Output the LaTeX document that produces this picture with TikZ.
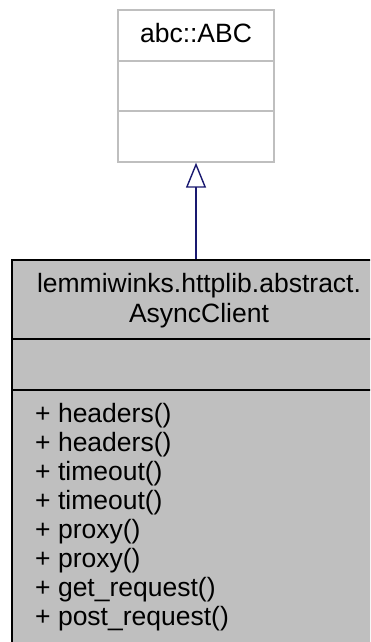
\documentclass[tikz,border=0pt]{standalone}
\usepackage{fontspec}
\setmainfont{Liberation Sans}
\usetikzlibrary{arrows.meta}
\definecolor{boxgray}{HTML}{BFBFBF}
\definecolor{edgeblue}{HTML}{191970}
\begin{document}
\begin{tikzpicture}[x=1pt,y=-1pt,
  txt/.style={inner sep=0pt, anchor=base, font=\fontsize{26.5}{29.5}\selectfont},
  mtxt/.style={inner sep=0pt, anchor=base west, font=\fontsize{26.5}{29.5}\selectfont},
  parentbox/.style={draw=boxgray, line width=1.4pt, fill=white, inner sep=0pt},
  childbox/.style={draw=black, line width=2pt, fill=boxgray, inner sep=0pt},
  inherit/.style={draw=edgeblue, line width=1.4pt, -{Triangle[open, length=25pt, width=20pt]}}
]
\path[use as bounding box, clip] (0,0) rectangle (370,642);
\fill[white] (0,0) rectangle (370,642);
% parent class
\node[parentbox, minimum width=156pt, minimum height=152pt] (abc) at (196,86) {};
\draw[boxgray, line width=1.4pt] (118,61) -- (274,61);
\draw[boxgray, line width=1.4pt] (118,111) -- (274,111);
\node[txt] (abcname) at (196,42) {abc::ABC};
% child class
\node[childbox, minimum width=374pt, minimum height=400pt] (client) at (199,460) {};
\draw[black, line width=2pt] (12,339) -- (386,339);
\draw[black, line width=2pt] (12,390) -- (386,390);
\node[txt] (cn1) at (199,292) {lemmiwinks.httplib.abstract.};
\node[txt] (cn2) at (199,322) {AsyncClient};
\node[mtxt] (m1) at (35,422) {+ headers()};
\node[mtxt] (m2) at (35,451) {+ headers()};
\node[mtxt] (m3) at (35,480) {+ timeout()};
\node[mtxt] (m4) at (35,509) {+ timeout()};
\node[mtxt] (m5) at (35,538) {+ proxy()};
\node[mtxt] (m6) at (35,567) {+ proxy()};
\node[mtxt] (m7) at (35,596) {+ get\_request()};
\node[mtxt] (m8) at (35,625) {+ post\_request()};
% inheritance
\coordinate (cstart) at (abc.south |- client.north);
\draw[inherit] (cstart) -- (abc.south);
\end{tikzpicture}
\end{document}
